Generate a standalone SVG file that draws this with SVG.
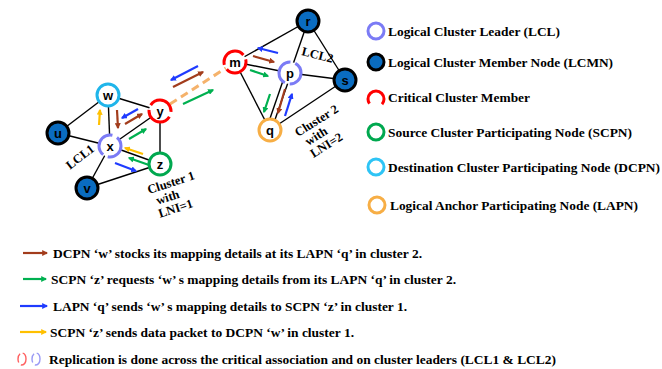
<svg xmlns="http://www.w3.org/2000/svg" width="662" height="369" viewBox="0 0 662 369">
<style>
.e{stroke:#000;stroke-width:1.4;fill:none}
.n{fill:#fff;stroke-width:3}
.b{fill:#0a6cc0;stroke:#000;stroke-width:3}
.lbl{font-family:"Liberation Sans",Arial,sans-serif;font-weight:bold;font-size:13px;text-anchor:middle;fill:#000}
.t{font-family:"Liberation Serif","Times New Roman",serif;font-weight:bold;font-size:13.5px;fill:#000}
.c{font-family:"Liberation Serif","Times New Roman",serif;font-weight:bold;font-size:12.5px;fill:#000}
.a{stroke-width:2.2;fill:none}
.br{stroke:#a23c1c}.gr{stroke:#00b050}.bl{stroke:#1f3bff}.ye{stroke:#ffc000}
</style>
<defs>
<marker id="hbr" viewBox="0 0 10 10" refX="8" refY="5" markerWidth="6" markerHeight="6" markerUnits="userSpaceOnUse" orient="auto"><path d="M0,0L10,5L0,10z" fill="#a23c1c"/></marker>
<marker id="hgr" viewBox="0 0 10 10" refX="8" refY="5" markerWidth="6" markerHeight="6" markerUnits="userSpaceOnUse" orient="auto"><path d="M0,0L10,5L0,10z" fill="#00b050"/></marker>
<marker id="hbl" viewBox="0 0 10 10" refX="8" refY="5" markerWidth="6" markerHeight="6" markerUnits="userSpaceOnUse" orient="auto"><path d="M0,0L10,5L0,10z" fill="#1f3bff"/></marker>
<marker id="hye" viewBox="0 0 10 10" refX="8" refY="5" markerWidth="6" markerHeight="6" markerUnits="userSpaceOnUse" orient="auto"><path d="M0,0L10,5L0,10z" fill="#ffc000"/></marker>
</defs>
<g id="connectors">
<line class="e" x1="58" y1="133" x2="108" y2="95"/>
<line class="e" x1="58" y1="133" x2="110" y2="146"/>
<line class="e" x1="108" y1="95" x2="110" y2="146"/>
<line class="e" x1="108" y1="95" x2="160" y2="111"/>
<line class="e" x1="110" y1="146" x2="160" y2="111"/>
<line class="e" x1="110" y1="146" x2="160" y2="164"/>
<line class="e" x1="110" y1="146" x2="87" y2="188"/>
<line class="e" x1="160" y1="111" x2="160" y2="164"/>
<line class="e" x1="87" y1="188" x2="160" y2="164"/>
<line x1="170" y1="104" x2="226" y2="68" stroke="#f5b26b" stroke-width="3" stroke-dasharray="8 5"/>
<line class="e" x1="235" y1="62" x2="308" y2="21"/>
<line class="e" x1="235" y1="62" x2="290" y2="73"/>
<line class="e" x1="235" y1="62" x2="270" y2="130"/>
<line class="e" x1="308" y1="21" x2="290" y2="73"/>
<line class="e" x1="308" y1="21" x2="345" y2="80"/>
<line class="e" x1="290" y1="73" x2="345" y2="80"/>
<line class="e" x1="286" y1="72" x2="266" y2="130"/>
<line class="e" x1="291" y1="74" x2="271" y2="131"/>
<line class="e" x1="270" y1="130" x2="345" y2="80"/>
<line class="a ye" x1="99" y1="125" x2="100" y2="110" marker-end="url(#hye)"/>
<line class="a br" x1="117" y1="110" x2="118" y2="128" marker-end="url(#hbr)"/>
<line class="a bl" x1="138" y1="109" x2="122" y2="118" marker-end="url(#hbl)"/>
<line class="a br" x1="125" y1="124" x2="142" y2="114" marker-end="url(#hbr)"/>
<line class="a gr" x1="129" y1="139" x2="146" y2="129" marker-end="url(#hgr)"/>
<line class="a ye" x1="143" y1="154" x2="125" y2="148" marker-end="url(#hye)"/>
<line class="a gr" x1="149" y1="165" x2="129" y2="158" marker-end="url(#hgr)"/>
<line class="a bl" x1="115" y1="163" x2="136" y2="171" marker-end="url(#hbl)"/>
<line class="a bl" x1="198" y1="66" x2="171" y2="80" marker-end="url(#hbl)"/>
<line class="a br" x1="173" y1="87" x2="203" y2="72" marker-end="url(#hbr)"/>
<line class="a gr" x1="183" y1="104" x2="213" y2="90" marker-end="url(#hgr)"/>
<line class="a bl" x1="278" y1="53" x2="258" y2="48" marker-end="url(#hbl)"/>
<line class="a br" x1="253" y1="56" x2="274" y2="62" marker-end="url(#hbr)"/>
<line class="a gr" x1="250" y1="70" x2="268" y2="76" marker-end="url(#hgr)"/>
<line class="a gr" x1="270" y1="94" x2="264" y2="112" marker-end="url(#hgr)"/>
<line class="a br" x1="285" y1="89" x2="278" y2="113" marker-end="url(#hbr)"/>
<line class="a bl" x1="285" y1="116" x2="292" y2="94" marker-end="url(#hbl)"/>
</g>
<g id="node-u"><circle class="b" cx="58" cy="133" r="11"/><text class="lbl" x="58" y="138">u</text></g>
<g id="node-w"><circle class="n" cx="108" cy="95" r="11" stroke="#1fb5ea"/><text class="lbl" x="108" y="100">w</text></g>
<g id="node-x"><circle class="n" cx="110" cy="146" r="11" stroke="#7b7bf5" stroke-dasharray="29.5 5" stroke-dashoffset="10"/><text class="lbl" x="110" y="151">x</text></g>
<g id="node-y"><circle class="n" cx="160" cy="111" r="11" stroke="#ff0000" stroke-dasharray="29.5 5" stroke-dashoffset="-6"/><text class="lbl" x="160" y="116">y</text></g>
<g id="node-z"><circle class="n" cx="160" cy="164" r="11" stroke="#00a84f"/><text class="lbl" x="160" y="169">z</text></g>
<g id="node-v"><circle class="b" cx="87" cy="188" r="11"/><text class="lbl" x="87" y="193">v</text></g>
<g id="node-m"><circle class="n" cx="235" cy="62" r="11" stroke="#ff0000" stroke-dasharray="29.5 5" stroke-dashoffset="3"/><text class="lbl" x="235" y="67">m</text></g>
<g id="node-r"><circle class="b" cx="308" cy="21" r="11"/><text class="lbl" x="308" y="26">r</text></g>
<g id="node-p"><circle class="n" cx="290" cy="73" r="11" stroke="#7b7bf5" stroke-dasharray="29.5 5" stroke-dashoffset="12"/><text class="lbl" x="290" y="78">p</text></g>
<g id="node-s"><circle class="b" cx="345" cy="80" r="11"/><text class="lbl" x="345" y="85">s</text></g>
<g id="node-q"><circle class="n" cx="270" cy="130" r="11" stroke="#f7ae45"/><text class="lbl" x="270" y="135">q</text></g>
<g id="labels">
<text class="c" transform="translate(70,170) rotate(-38)">LCL1</text>
<g transform="translate(149,194) rotate(-18)">
<text class="c" x="0" y="0">Cluster 1</text>
<text class="c" x="5" y="13">with</text>
<text class="c" x="3" y="26">LNI=1</text>
</g>
<text class="c" transform="translate(301,55) rotate(14)">LCL2</text>
<g transform="translate(298,137) rotate(-32)">
<text class="c" x="0" y="0">Cluster 2</text>
<text class="c" x="4" y="13">with</text>
<text class="c" x="2" y="26">LNI=2</text>
</g>
</g>
<g id="legend">
<circle cx="376" cy="31" r="8" fill="#fff" stroke="#7b7bf5" stroke-width="3"/>
<text class="t" x="388" y="36" textLength="172" lengthAdjust="spacingAndGlyphs">Logical Cluster Leader (LCL)</text>
<circle cx="376" cy="62" r="8" fill="#0a6cc0" stroke="#000" stroke-width="3"/>
<text class="t" x="388" y="67" textLength="225" lengthAdjust="spacingAndGlyphs">Logical Cluster Member Node (LCMN)</text>
<circle cx="376" cy="99" r="8" fill="none" stroke="#ff0000" stroke-width="3" stroke-dasharray="36 14.3" stroke-dashoffset="-20"/>
<text class="t" x="388" y="102" textLength="142" lengthAdjust="spacingAndGlyphs">Critical Cluster Member</text>
<circle cx="376" cy="132" r="8" fill="#fff" stroke="#00a84f" stroke-width="3"/>
<text class="t" x="388" y="137" textLength="244" lengthAdjust="spacingAndGlyphs">Source Cluster Participating Node (SCPN)</text>
<circle cx="376" cy="167" r="8" fill="#fff" stroke="#2ec4f5" stroke-width="3"/>
<text class="t" x="388" y="172" textLength="272" lengthAdjust="spacingAndGlyphs">Destination Cluster Participating Node (DCPN)</text>
<circle cx="377" cy="205" r="8" fill="#fff" stroke="#f7ae45" stroke-width="3"/>
<text class="t" x="390" y="210" textLength="248" lengthAdjust="spacingAndGlyphs">Logical Anchor Participating Node (LAPN)</text>
<line class="a br" x1="23" y1="253" x2="47" y2="253" marker-end="url(#hbr)"/>
<text class="t" x="53" y="257.5" textLength="369" lengthAdjust="spacingAndGlyphs">DCPN ‘w’ stocks its mapping details at its LAPN ‘q’ in cluster 2.</text>
<line class="a gr" x1="23" y1="279" x2="46" y2="279" marker-end="url(#hgr)"/>
<text class="t" x="51" y="283.5" textLength="405" lengthAdjust="spacingAndGlyphs">SCPN ‘z’ requests ‘w’ s mapping details from its LAPN ‘q’ in cluster 2.</text>
<line class="a bl" x1="20" y1="306" x2="47" y2="306" marker-end="url(#hbl)"/>
<text class="t" x="53" y="310.5" textLength="354" lengthAdjust="spacingAndGlyphs">LAPN ‘q’ sends ‘w’ s mapping details to SCPN ‘z’ in cluster 1.</text>
<line class="a ye" x1="20" y1="332" x2="46" y2="332" marker-end="url(#hye)"/>
<text class="t" x="50" y="336.5" textLength="304" lengthAdjust="spacingAndGlyphs">SCPN ‘z’ sends data packet to DCPN ‘w’ in cluster 1.</text>
<ellipse cx="22" cy="359" rx="4" ry="6" fill="none" stroke="#ff6060" stroke-width="1.4" stroke-dasharray="9 3"/>
<ellipse cx="36" cy="359" rx="4" ry="6" fill="none" stroke="#9a9af5" stroke-width="1.4" stroke-dasharray="9 3"/>
<text class="t" x="49" y="363.5" textLength="507" lengthAdjust="spacingAndGlyphs">Replication is done across the critical association and on cluster leaders (LCL1 &amp; LCL2)</text>
</g>
</svg>
